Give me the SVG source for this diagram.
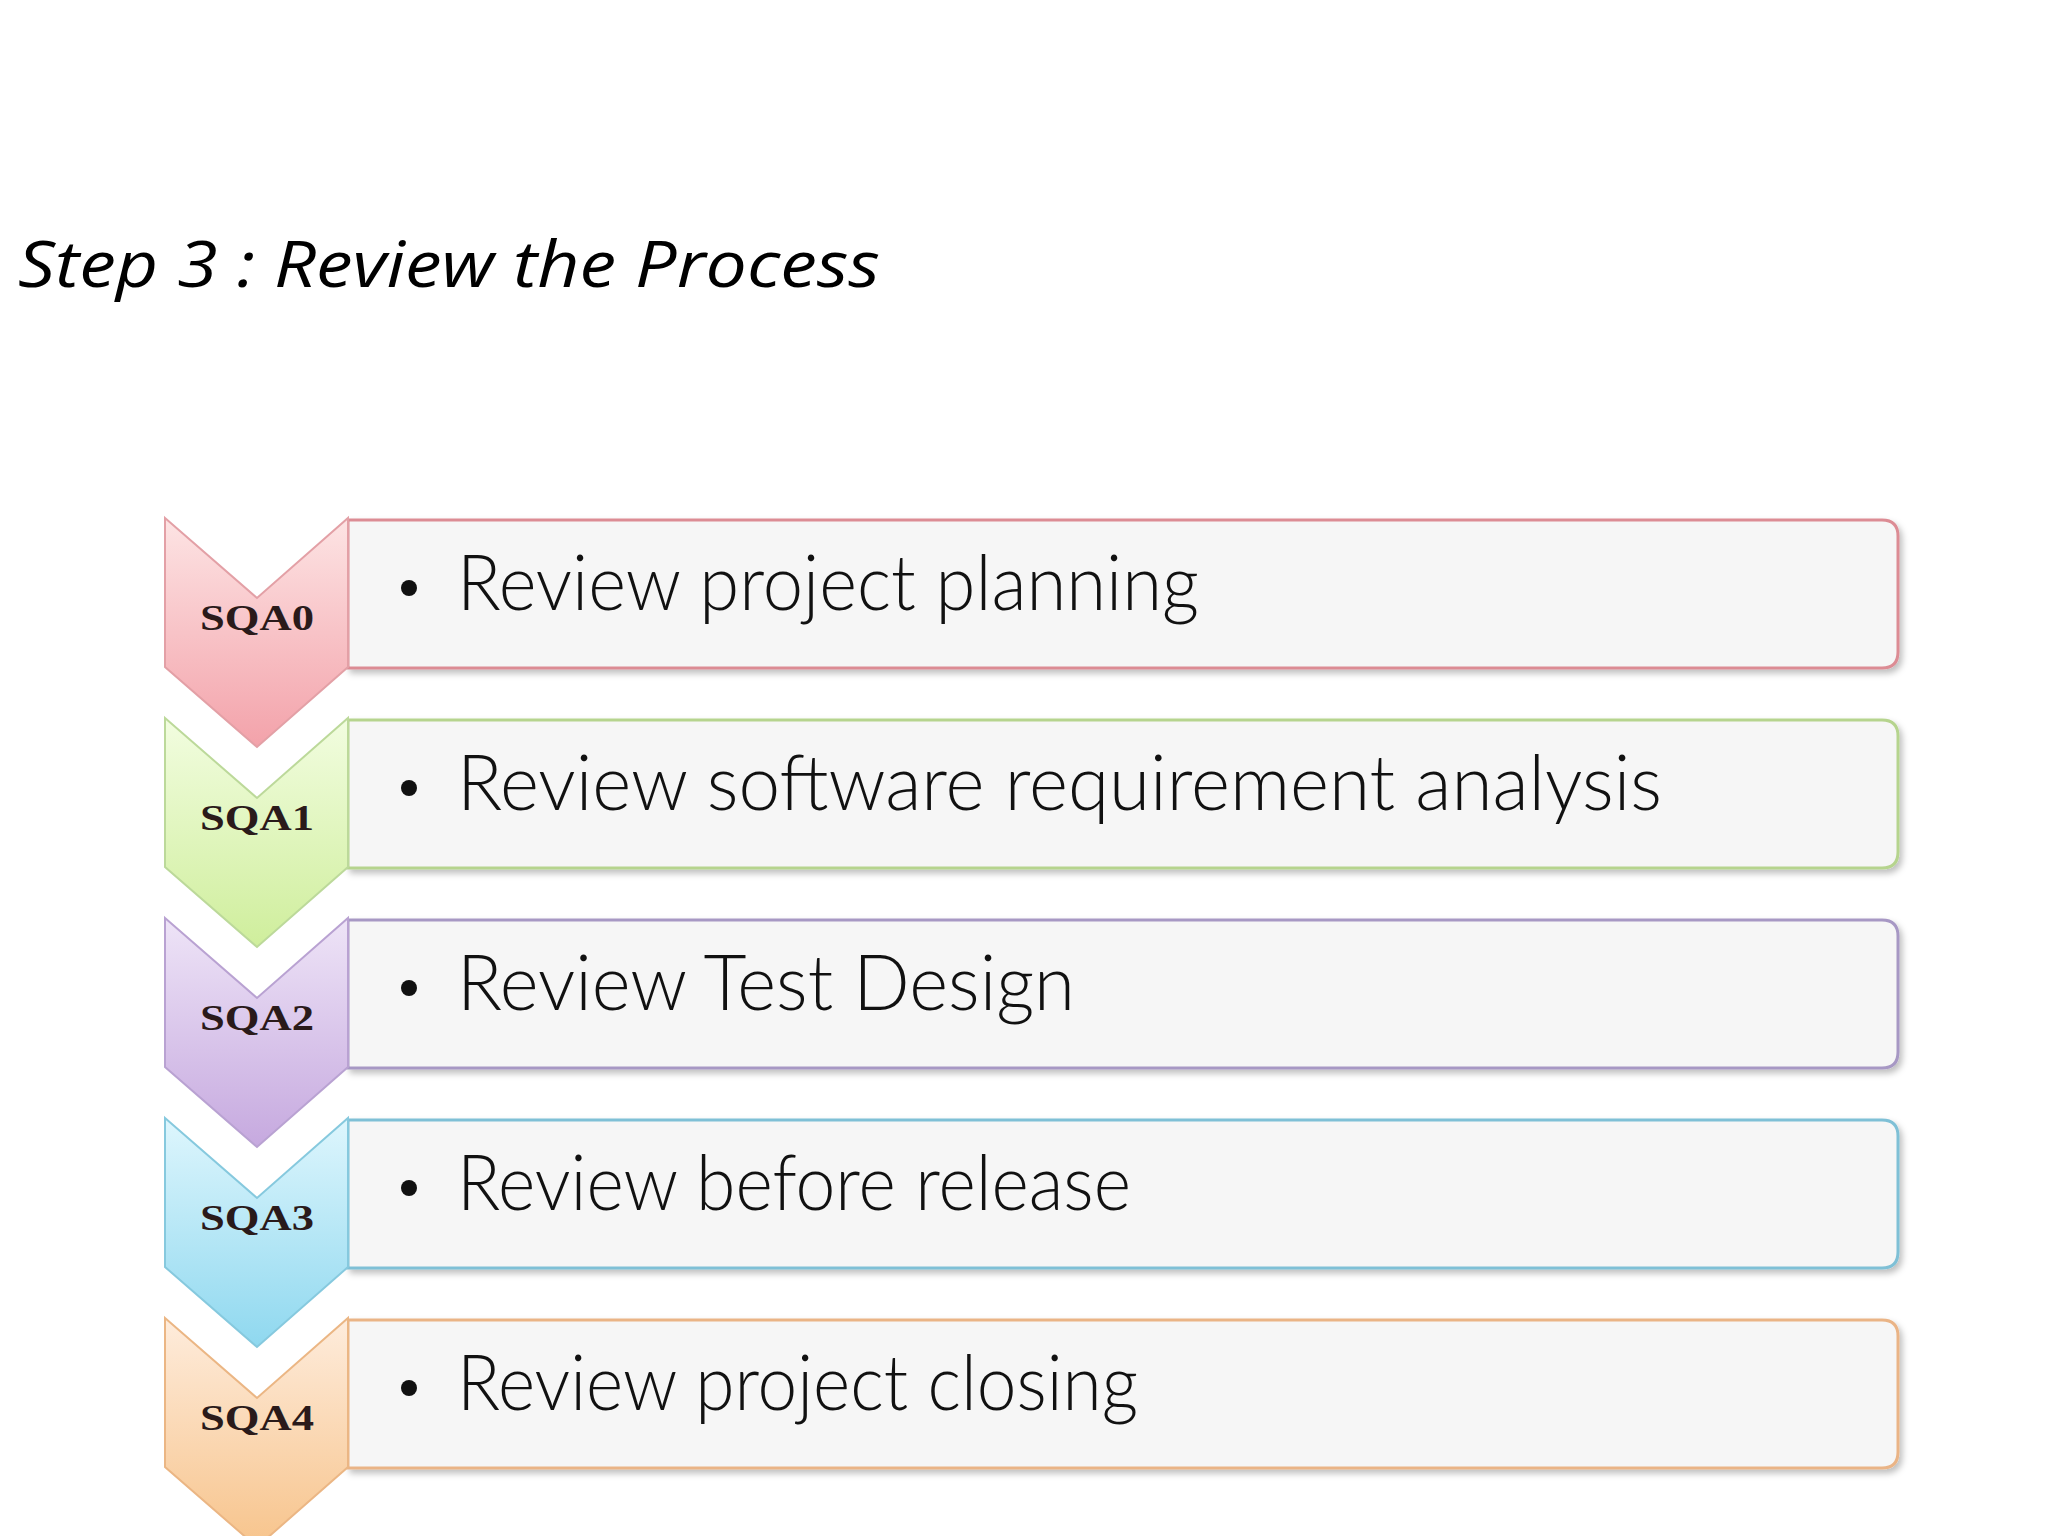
<svg xmlns="http://www.w3.org/2000/svg" width="2048" height="1536" viewBox="0 0 2048 1536">
<defs>
<linearGradient id="g0" x1="0" y1="0" x2="0" y2="1"><stop offset="0" stop-color="#fde4e4"/><stop offset="1" stop-color="#f3a2aa"/></linearGradient>
<linearGradient id="g1" x1="0" y1="0" x2="0" y2="1"><stop offset="0" stop-color="#f2fde0"/><stop offset="1" stop-color="#cfee9c"/></linearGradient>
<linearGradient id="g2" x1="0" y1="0" x2="0" y2="1"><stop offset="0" stop-color="#eee4f7"/><stop offset="1" stop-color="#c6a9df"/></linearGradient>
<linearGradient id="g3" x1="0" y1="0" x2="0" y2="1"><stop offset="0" stop-color="#def6fd"/><stop offset="1" stop-color="#8fd8ef"/></linearGradient>
<linearGradient id="g4" x1="0" y1="0" x2="0" y2="1"><stop offset="0" stop-color="#feecdc"/><stop offset="1" stop-color="#f7c48c"/></linearGradient>
<filter id="sh" x="-5%" y="-20%" width="110%" height="140%"><feDropShadow dx="3" dy="4" stdDeviation="3" flood-color="#000" flood-opacity="0.25"/></filter>
<path id="chev" d="M0 0 L92 80 L183 0 L183 149 L92 229 L0 149 Z"/>
</defs>
<style>
.box{fill:#f6f6f6;stroke-width:3;filter:url(#sh)}
.lab{font-family:"Liberation Serif",serif;font-weight:bold;font-size:36px;fill:#2a1a1a}
.item{font-family:"Lato","Liberation Sans",sans-serif;font-weight:300;font-size:76px;fill:#111}
.bul{fill:#111}
</style>
<rect width="2048" height="1536" fill="#fff"/>
<text x="18" y="287" font-family="'Open Sans','Liberation Sans',sans-serif" font-style="italic" font-size="64" fill="#000" textLength="862" lengthAdjust="spacingAndGlyphs">Step 3 : Review the Process</text>
<g id="row0" transform="translate(0,518)">
<path class="box" stroke="#dc8c94" d="M348 2 H1882 Q1898 2 1898 18 V134 Q1898 150 1882 150 H348 Z"/>
<use href="#chev" x="165" fill="url(#g0)" stroke="#e3a0a6" stroke-width="2"/>
<text class="lab" x="200" y="112" textLength="114" lengthAdjust="spacingAndGlyphs">SQA0</text>
<circle class="bul" cx="409" cy="70" r="8"/>
<text class="item" x="457" y="92" textLength="742" lengthAdjust="spacingAndGlyphs">Review project planning</text>
</g>
<g id="row1" transform="translate(0,718)">
<path class="box" stroke="#b6d48e" d="M348 2 H1882 Q1898 2 1898 18 V134 Q1898 150 1882 150 H348 Z"/>
<use href="#chev" x="165" fill="url(#g1)" stroke="#bcd99a" stroke-width="2"/>
<text class="lab" x="200" y="112" textLength="114" lengthAdjust="spacingAndGlyphs">SQA1</text>
<circle class="bul" cx="409" cy="70" r="8"/>
<text class="item" x="457" y="92" textLength="1205" lengthAdjust="spacingAndGlyphs">Review software requirement analysis</text>
</g>
<g id="row2" transform="translate(0,918)">
<path class="box" stroke="#a798c4" d="M348 2 H1882 Q1898 2 1898 18 V134 Q1898 150 1882 150 H348 Z"/>
<use href="#chev" x="165" fill="url(#g2)" stroke="#b9a2d2" stroke-width="2"/>
<text class="lab" x="200" y="112" textLength="114" lengthAdjust="spacingAndGlyphs">SQA2</text>
<circle class="bul" cx="409" cy="70" r="8"/>
<text class="item" x="457" y="92" textLength="618" lengthAdjust="spacingAndGlyphs">Review Test Design</text>
</g>
<g id="row3" transform="translate(0,1118)">
<path class="box" stroke="#7fc0d6" d="M348 2 H1882 Q1898 2 1898 18 V134 Q1898 150 1882 150 H348 Z"/>
<use href="#chev" x="165" fill="url(#g3)" stroke="#86c9de" stroke-width="2"/>
<text class="lab" x="200" y="112" textLength="114" lengthAdjust="spacingAndGlyphs">SQA3</text>
<circle class="bul" cx="409" cy="70" r="8"/>
<text class="item" x="457" y="92" textLength="674" lengthAdjust="spacingAndGlyphs">Review before release</text>
</g>
<g id="row4" transform="translate(0,1318)">
<path class="box" stroke="#eab486" d="M348 2 H1882 Q1898 2 1898 18 V134 Q1898 150 1882 150 H348 Z"/>
<use href="#chev" x="165" fill="url(#g4)" stroke="#ebb684" stroke-width="2"/>
<text class="lab" x="200" y="112" textLength="114" lengthAdjust="spacingAndGlyphs">SQA4</text>
<circle class="bul" cx="409" cy="70" r="8"/>
<text class="item" x="457" y="92" textLength="681" lengthAdjust="spacingAndGlyphs">Review project closing</text>
</g>
<g id="connectors"/>
</svg>
